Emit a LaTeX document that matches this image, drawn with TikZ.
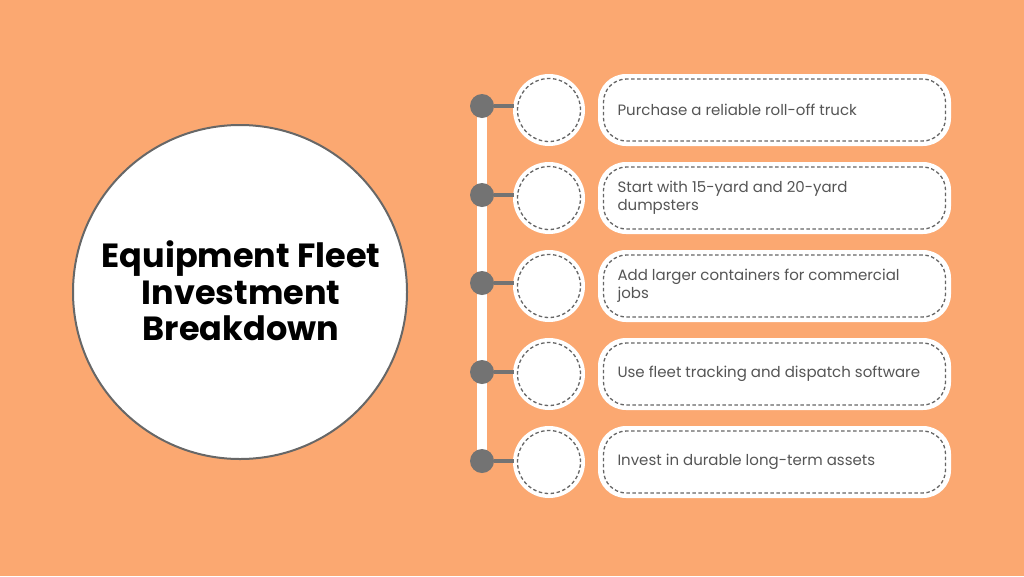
\documentclass[tikz,border=0pt]{standalone}
\usepackage{fontspec}
\setmainfont{Poppins}
\definecolor{bg}{HTML}{FBA871}
\definecolor{dotgray}{HTML}{737373}
\definecolor{dashgray}{HTML}{666666}
\definecolor{txt}{HTML}{555555}
\tikzset{
  hub/.style={circle,fill=dotgray,minimum size=24pt,inner sep=0pt},
  ring/.style={circle,fill=white,minimum size=72pt,inner sep=0pt},
  ringdash/.style={circle,draw=dashgray,dash pattern=on 3.5pt off 2.5pt,line width=1.3pt,minimum size=63pt,inner sep=0pt},
  card/.style={rectangle,rounded corners=28pt,fill=white,minimum width=353pt,minimum height=72pt,inner sep=0pt},
  carddash/.style={rectangle,rounded corners=23pt,draw=dashgray,dash pattern=on 3.5pt off 2.5pt,line width=1.3pt,minimum width=342pt,minimum height=62pt,inner sep=0pt},
  label/.style={anchor=west,text=txt,font=\fontsize{15}{18}\selectfont,align=left},
  link/.style={draw=dotgray,line width=4pt},
}
\begin{document}
\begin{tikzpicture}[x=1pt,y=-1pt]
\useasboundingbox (0,0) rectangle (1024,576);
\fill[bg] (0,0) rectangle (1024,576);
% big circle
\node[circle,fill=white,draw=dotgray!90!black,line width=2pt,minimum size=334pt,inner sep=0pt] (main) at (240,292) {};
\node[font=\bfseries\fontsize{33.5}{36.5}\selectfont,align=center,text=black] (title) at (241,291) {Equipment Fleet\\Investment\\Breakdown};
% vertical bar
\coordinate (top) at (482,106);
\coordinate (bot) at (482,461);
\draw[white,line width=10pt] (top) -- (bot);
\foreach \i/\y/\dy/\t in {1/110/106/{Purchase a reliable roll-off truck},
                          2/198/195/{Start with 15-yard and 20-yard\\dumpsters},
                          3/286/283/{Add larger containers for commercial\\jobs},
                          4/374/372/{Use fleet tracking and dispatch software},
                          5/462/461/{Invest in durable long-term assets}} {
  \node[ring] (r\i) at (549,\y) {};
  \node[ringdash] (rd\i) at (549,\y) {};
  \node[hub] (h\i) at (482,\dy) {};
  \coordinate (c\i) at (514,\dy);
  \draw[link] (h\i.east) -- (c\i);
  \node[card] (k\i) at (774.5,\y) {};
  \node[carddash] (kd\i) at (774.5,\y) {};
  \node[label] (t\i) at (614,\y) {\t};
}
\end{tikzpicture}
\end{document}
